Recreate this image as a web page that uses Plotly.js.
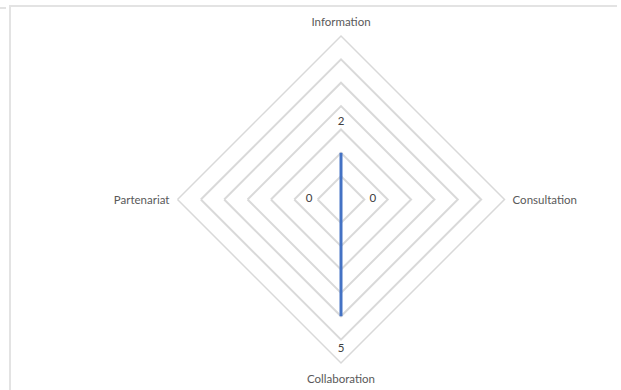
<!DOCTYPE html>
<html>
<head>
<meta charset="utf-8">
<script src="https://cdn.plot.ly/plotly-3.0.1.min.js"></script>
<style>
  body { margin: 0; background: #fff; }
  #frame {
    position: absolute; left: 9px; top: 5px; width: 606px; height: 390px;
    border-top: 2px solid #e3e3e3; border-left: 2px solid #e3e3e3;
  }
  #tick { position: absolute; left: 0; top: 7px; width: 6px; height: 2px; background: #e3e3e3; }
  #radarChart { position: absolute; left: 0; top: 0; width: 621px; height: 390px; }
</style>
</head>
<body>
<div id="frame"></div>
<div id="tick"></div>
<div id="radarChart"></div>
<script>
TESTER = document.getElementById("radarChart");

var categories = ["Information", "Consultation", "Collaboration", "Partenariat"];
var values = [2, 0, 5, 0];

// close the shape by repeating the first point
var theta = categories.concat([categories[0]]);
var r = values.concat([values[0]]);

var trace1 = {
  type: "scatterpolar",
  r: r,
  theta: theta,
  mode: "lines+markers+text",
  text: values.map(String).concat([""]),
  textposition: ["top center", "middle right", "bottom center", "middle left", "top center"],
  textfont: { family: "Lato, Liberation Sans, sans-serif", size: 11.5, color: "#404040" },
  line: { color: "#4472C4", width: 3 },
  // invisible markers, only there to push the labels away from the points
  marker: { size: [39, 44, 41, 44, 0], color: "rgba(0,0,0,0)", opacity: 0, line: { width: 0 } },
  cliponaxis: true,
  hoverinfo: "r+theta",
  showlegend: false,
};

var data = [trace1];

var layout = {
  width: 621,
  height: 390,
  margin: { l: 61, r: 0, t: 36, b: 27 },
  paper_bgcolor: "rgba(0,0,0,0)",
  plot_bgcolor: "rgba(0,0,0,0)",
  font: { family: "Lato, Liberation Sans, sans-serif", size: 11.5, color: "#595959" },
  polar: {
    bgcolor: "rgba(0,0,0,0)",
    gridshape: "linear",
    radialaxis: {
      range: [0, 7],
      dtick: 1,
      showticklabels: false,
      ticks: "",
      showline: false,
      gridcolor: "#d9d9d9",
      gridwidth: 1.5,
    },
    angularaxis: {
      rotation: 90,
      direction: "clockwise",
      showgrid: false,
      showline: true,
      linecolor: "#d9d9d9",
      linewidth: 1.5,
      ticks: "outside",
      ticklen: 5,
      tickcolor: "rgba(0,0,0,0)",
      tickfont: { size: 11.5, color: "#595959" },
    },
  },
};

Plotly.newPlot(TESTER, data, layout, { displayModeBar: false });
</script>
</body>
</html>
